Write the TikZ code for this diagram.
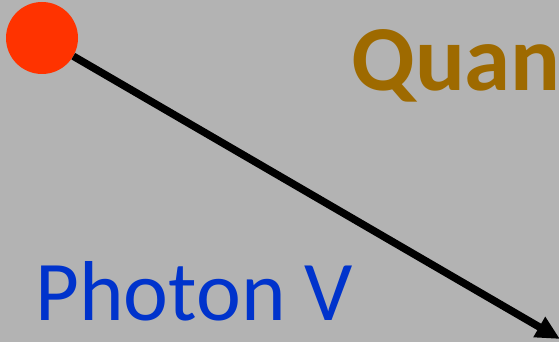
\documentclass[tikz,border=0pt]{standalone}
\usepackage{fontspec}
\setmainfont{Carlito}
\usetikzlibrary{arrows.meta}

\definecolor{bggray}{HTML}{B3B3B3}
\definecolor{dotred}{HTML}{FF3300}
\definecolor{quangold}{HTML}{9E6A00}
\definecolor{photonblue}{HTML}{0033CC}

\begin{document}
\begin{tikzpicture}[x=1pt,y=-1pt]
      \fill[bggray] (0,0) rectangle (559,342);
      \useasboundingbox (0,0) rectangle (559,342);
      \node[circle,fill=dotred,minimum size=72pt,inner sep=0pt] (dot) at (42,38) {};
      \coordinate (tip) at (560,339);
      \draw[line width=7.5pt,-{Triangle[length=24pt,width=22pt]}] (dot) -- (tip);
      \node[anchor=base west,inner sep=0pt,text=quangold,font=\fontsize{93}{100}\selectfont\bfseries] (quan) at (351,91) {Quan};
      \node[anchor=base west,inner sep=0pt,text=photonblue,font=\fontsize{85}{100}\selectfont] (photon) at (35,320) {Photon V};
    \end{tikzpicture}
\end{document}
